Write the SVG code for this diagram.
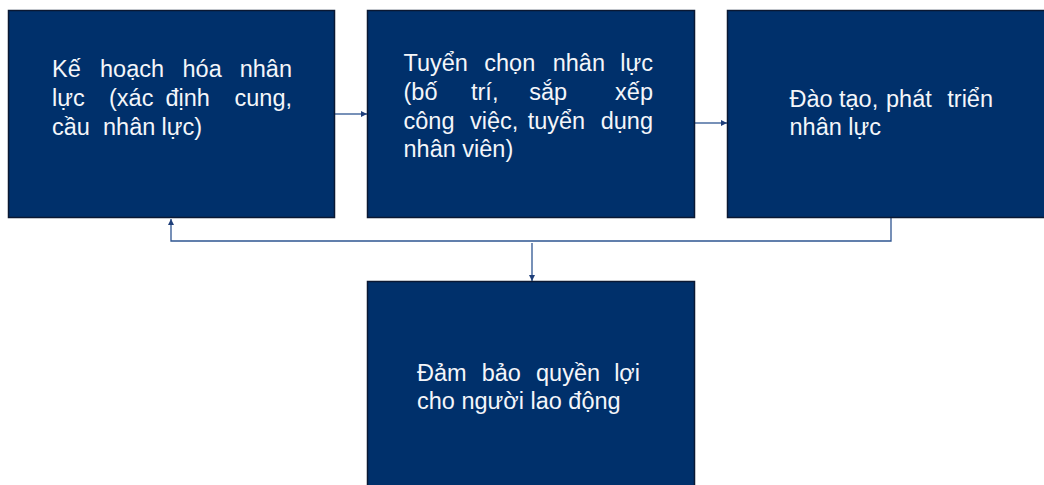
<svg xmlns="http://www.w3.org/2000/svg" width="1044" height="485" viewBox="0 0 1044 485">
  <style>
    .box { fill: #00306b; stroke: #0a1833; stroke-width: 1.5; }
    .lbl { font-family: "Liberation Sans", Arial, sans-serif; font-size: 23.5px; fill: #f4f6fa; }
    .end { text-anchor: end; }
    .conn { fill: none; stroke: #2e5591; stroke-width: 1.3; }
  </style>
  <defs>
    <marker id="arrow" viewBox="0 0 10 10" refX="10" refY="5" markerWidth="7" markerHeight="6" orient="auto" markerUnits="userSpaceOnUse">
      <path d="M0,0 L10,5 L0,10 z" fill="#1f3f7a"/>
    </marker>
  </defs>

  <!-- connectors -->
  <g id="connectors">
    <line class="conn" x1="335" y1="114" x2="367" y2="114" marker-end="url(#arrow)"/>
    <line class="conn" x1="695" y1="123" x2="727" y2="123" marker-end="url(#arrow)"/>
    <polyline class="conn" points="891,218 891,241 171,241 171,219" marker-end="url(#arrow)"/>
    <line class="conn" x1="532" y1="243" x2="532" y2="281" marker-end="url(#arrow)"/>
  </g>

  <!-- planning -->
  <g id="node-planning">
    <rect class="box" x="8.5" y="10.5" width="326" height="207"/>
    <text class="lbl">
      <tspan x="52" y="77">Kế</tspan><tspan x="100" y="77">hoạch</tspan><tspan x="182.5" y="77">hóa</tspan>
      <tspan x="52" y="106">lực</tspan><tspan x="109" y="106">(xác</tspan><tspan x="165.5" y="106">định</tspan>
      <tspan x="52" y="135">cầu</tspan><tspan x="103" y="135">nhân</tspan><tspan x="161.5" y="135">lực)</tspan>
    </text>
    <text class="lbl end"><tspan x="292" y="77">nhân</tspan><tspan x="292" y="106">cung,</tspan></text>
  </g>

  <!-- recruitment -->
  <g id="node-recruitment">
    <rect class="box" x="367.5" y="10.5" width="327" height="207"/>
    <text class="lbl">
      <tspan x="403.5" y="71">Tuyển</tspan><tspan x="484.3" y="71">chọn</tspan><tspan x="552.7" y="71">nhân</tspan>
      <tspan x="403.5" y="100">(bố</tspan><tspan x="471" y="100">trí,</tspan><tspan x="529.3" y="100">sắp</tspan>
      <tspan x="403.5" y="129">công</tspan><tspan x="470" y="129">việc,</tspan><tspan x="527.7" y="129">tuyển</tspan>
      <tspan x="403.5" y="157">nhân viên)</tspan>
    </text>
    <text class="lbl end"><tspan x="653" y="71">lực</tspan><tspan x="653" y="100">xếp</tspan><tspan x="653" y="129">dụng</tspan></text>
  </g>

  <!-- training -->
  <g id="node-training">
    <rect class="box" x="727.5" y="10.5" width="330" height="207"/>
    <text class="lbl">
      <tspan x="789.5" y="106.5">Đào</tspan><tspan x="839" y="106.5">tạo,</tspan><tspan x="886" y="106.5">phát</tspan>
      <tspan x="789.5" y="135">nhân lực</tspan>
    </text>
    <text class="lbl end"><tspan x="993" y="106.5">triển</tspan></text>
  </g>

  <!-- benefits -->
  <g id="node-benefits">
    <rect class="box" x="367.5" y="281.5" width="327" height="215"/>
    <text class="lbl">
      <tspan x="417" y="381">Đảm</tspan><tspan x="481.7" y="381">bảo</tspan><tspan x="536" y="381">quyền</tspan>
      <tspan x="417" y="408.5">cho người lao động</tspan>
    </text>
    <text class="lbl end"><tspan x="640" y="381">lợi</tspan></text>
  </g>
</svg>
